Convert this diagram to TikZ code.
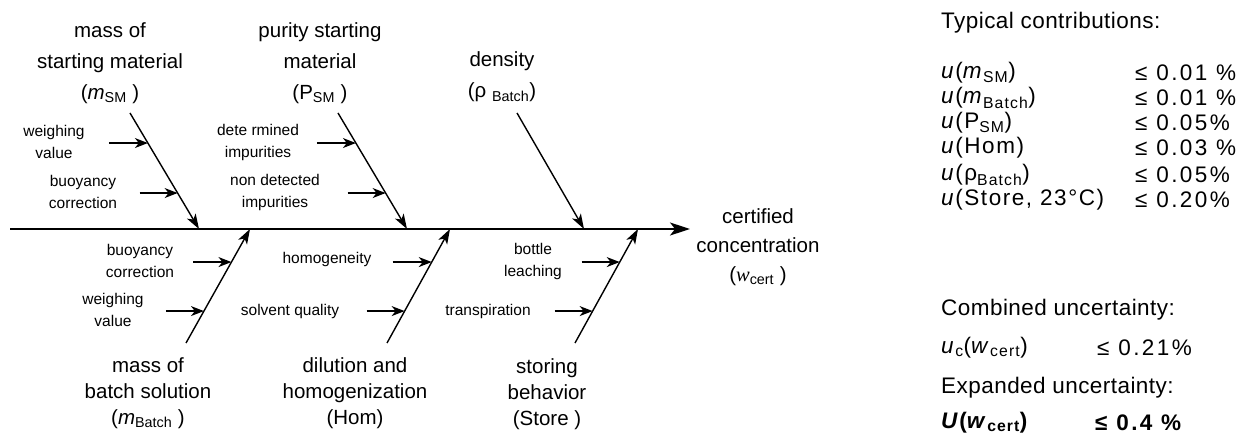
\documentclass[tikz,border=0pt]{standalone}
\usepackage{fontspec}
\setmainfont{Liberation Sans}
\newfontfamily\timesfont{Liberation Serif}
\newfontfamily\headfont[LetterSpace=2]{Liberation Sans}
\newfontfamily\rowfont[LetterSpace=7]{Liberation Sans}
\newfontfamily\valfont[LetterSpace=11]{Liberation Sans}
\usepackage{tikz}
\usetikzlibrary{arrows, arrows.meta, calc, positioning}

\begin{document}
\begin{tikzpicture}[x=1pt, y=-1pt]
    \tikzstyle{spine} = [line width=1.5pt,-{Stealth[length=20pt,width=13pt,inset=5pt]}]
    \tikzstyle{arrow} = [line width=1.4pt,-{Stealth[length=15pt,width=10pt,inset=4pt]}]
    \tikzstyle{subarrow} = [line width=1.3pt,-{Stealth[length=13pt,width=10pt,inset=4pt]}]
    \tikzstyle{cause} = [align=center, inner sep=0pt, font=\fontsize{20.5}{31}\selectfont]
    \tikzstyle{causelow} = [align=center, inner sep=0pt, font=\fontsize{20.5}{26}\selectfont]
    \tikzstyle{subcause} = [align=center, inner sep=0pt, font=\fontsize{15.5}{22}\selectfont]
    \tikzstyle{panel} = [anchor=west, inner sep=0pt, font=\headfont\fontsize{22.5}{25}\selectfont]
    \tikzstyle{panelrow} = [anchor=west, inner sep=0pt, font=\rowfont\fontsize{22.5}{25}\selectfont]
    \tikzstyle{panelval} = [anchor=west, inner sep=0pt, font=\valfont\fontsize{22.5}{25}\selectfont]
    \useasboundingbox (0,0) rectangle (1247,435);

    % spine and effect
    \coordinate (tail) at (10,229);
    \coordinate (head) at (690,229);
    \node[cause, font=\fontsize{20.5}{29}\selectfont](effect) at (758,247){certified\\concentration\\({\timesfont\itshape w}\textsubscript{cert} )};
    \draw[spine] (tail)--(head);

    % upper causes
    \node[cause](msm) at (110,63){mass of\\starting material\\(\textit{m}\textsubscript{SM} )};
    \node[cause](psm) at (320,63){purity starting\\material\\(P\textsubscript{SM} )};
    \node[cause](rho) at (502,77){density\\(ρ \textsubscript{Batch})};
    \coordinate (smtop) at (130,113);
    \coordinate (smjoin) at (199,229);
    \coordinate (pstop) at (338,113);
    \coordinate (psjoin) at (407,229);
    \coordinate (rhotop) at (517,113);
    \coordinate (rhojoin) at (584,229);
    \draw[arrow] (smtop)--(smjoin);
    \draw[arrow] (pstop)--(psjoin);
    \draw[arrow] (rhotop)--(rhojoin);

    % lower causes
    \node[causelow](mbatch) at (148,393){mass of\\batch solution\\(\textit{m}\textsubscript{Batch} )};
    \node[causelow](hom) at (355,393){dilution and\\homogenization\\(Hom)};
    \node[causelow](store) at (547,394){storing\\behavior\\(Store )};
    \coordinate (mbbot) at (186,343);
    \coordinate (mbjoin) at (250,229);
    \coordinate (hombot) at (387,343);
    \coordinate (homjoin) at (450,229);
    \coordinate (stbot) at (575,343);
    \coordinate (stjoin) at (638,229);
    \draw[arrow] (mbbot)--(mbjoin);
    \draw[arrow] (hombot)--(homjoin);
    \draw[arrow] (stbot)--(stjoin);

    % sub causes, upper
    \node[subcause](smwv) at (54,142){weighing\\value};
    \node[subcause](smbc) at (83,192){buoyancy\\correction};
    \node[subcause](psdi) at (258,142){dete rmined\\impurities};
    \node[subcause](psni) at (275,192){non detected\\impurities};
    \coordinate (smA) at ($(smtop)!0.259!(smjoin)$);
    \coordinate (smB) at ($(smtop)!0.69!(smjoin)$);
    \coordinate (psA) at ($(pstop)!0.259!(psjoin)$);
    \coordinate (psB) at ($(pstop)!0.69!(psjoin)$);
    \draw[subarrow] ($(smA)+(-39,0)$)--(smA);
    \draw[subarrow] ($(smB)+(-38,0)$)--(smB);
    \draw[subarrow] ($(psA)+(-39,0)$)--(psA);
    \draw[subarrow] ($(psB)+(-38,0)$)--(psB);

    % sub causes, lower
    \node[subcause](mbbc) at (140,261){buoyancy\\correction};
    \node[subcause](mbwv) at (113,310){weighing\\value};
    \node[subcause](homhg) at (327,259){homogeneity};
    \node[subcause](homsq) at (290,311){solvent quality};
    \node[subcause](stbl) at (533,261){bottle\\leaching};
    \node[subcause](sttr) at (488,311){transpiration};
    \coordinate (mbA) at ($(mbbot)!0.71!(mbjoin)$);
    \coordinate (mbB) at ($(mbbot)!0.28!(mbjoin)$);
    \coordinate (homA) at ($(hombot)!0.71!(homjoin)$);
    \coordinate (homB) at ($(hombot)!0.28!(homjoin)$);
    \coordinate (stA) at ($(stbot)!0.71!(stjoin)$);
    \coordinate (stB) at ($(stbot)!0.28!(stjoin)$);
    \draw[subarrow] ($(mbA)+(-38,0)$)--(mbA);
    \draw[subarrow] ($(mbB)+(-38,0)$)--(mbB);
    \draw[subarrow] ($(homA)+(-39,0)$)--(homA);
    \draw[subarrow] ($(homB)+(-38,0)$)--(homB);
    \draw[subarrow] ($(stA)+(-38,0)$)--(stA);
    \draw[subarrow] ($(stB)+(-38,0)$)--(stB);

    % typical contributions
    \node[panel](tc) at (941,23){Typical contributions:};
    \node[panelrow](ulsm) at (941,73){\textit{u}(\textit{m}\textsubscript{SM})};
    \node[panelval](uvsm) at (1135,73){≤ 0.01 \%};
    \node[panelrow](ulmb) at (941,98){\textit{u}(\textit{m}\textsubscript{Batch})};
    \node[panelval](uvmb) at (1135,98){≤ 0.01 \%};
    \node[panelrow](ulps) at (941,123){\textit{u}(P\textsubscript{SM})};
    \node[panelval](uvps) at (1135,123){≤ 0.05\%};
    \node[panelrow](ulhom) at (941,148){\textit{u}(Hom)};
    \node[panelval](uvhom) at (1135,148){≤ 0.03 \%};
    \node[panelrow](ulrho) at (941,175){\textit{u}(ρ\textsubscript{Batch})};
    \node[panelval](uvrho) at (1135,175){≤ 0.05\%};
    \node[panelrow](ulst) at (941,200){\textit{u}(Store, 23°C)};
    \node[panelval](uvst) at (1135,200){≤ 0.20\%};

    % combined and expanded
    \node[panel](cu) at (941,310){Combined uncertainty:};
    \node[panelrow](ucl) at (941,348){\textit{u}\textsubscript{c}(\textit{w}\textsubscript{cert})};
    \node[panelval](ucv) at (1097,348){≤ 0.21\%};
    \node[panel](eu) at (941,388){Expanded uncertainty:};
    \node[panelrow](Ul) at (941,423){\textbf{\textit{U}(\textit{w}\textsubscript{cert})}};
    \node[panelval](Uv) at (1095,423){\textbf{≤ 0.4 \%}};
\end{tikzpicture}
\end{document}
